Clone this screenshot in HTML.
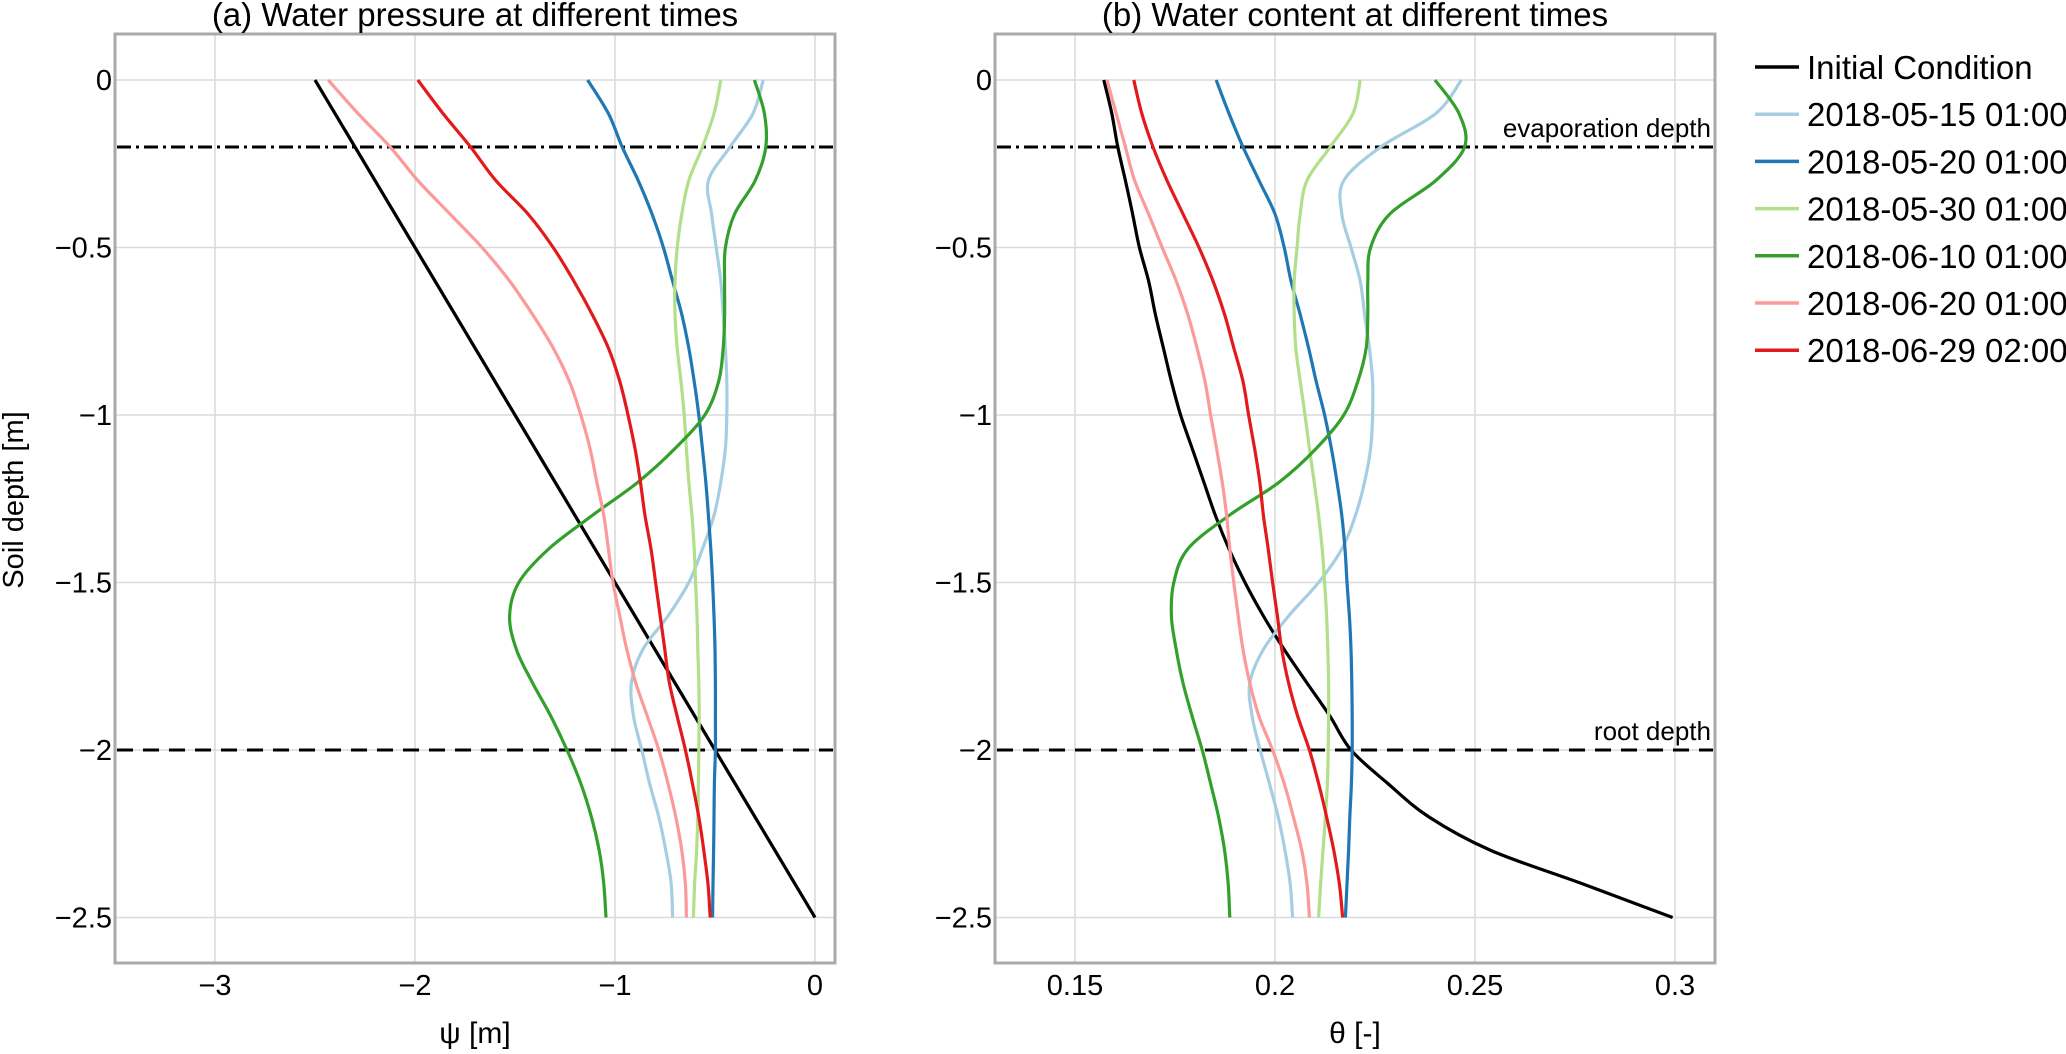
<!DOCTYPE html>
<html><head><meta charset="utf-8">
<style>
html,body{margin:0;padding:0;background:#fff;}
svg{display:block;font-family:"Liberation Sans",Arial,sans-serif;}
</style></head>
<body>
<svg id="chart" width="2066" height="1054" viewBox="0 0 2066 1054" xmlns="http://www.w3.org/2000/svg">
<rect x="0" y="0" width="2066" height="1054" fill="#fff"/>
<g id="panelA"></g>
<g id="panelB"></g>
<g id="legend"></g>
</svg>
<script>
const depths = [0,-0.1,-0.2,-0.3,-0.4,-0.5,-0.6,-0.7,-0.8,-0.9,-1.0,-1.1,-1.2,-1.3,-1.4,-1.5,-1.6,-1.7,-1.8,-1.9,-2.0,-2.1,-2.2,-2.3,-2.4,-2.5];
const seriesNames = ["Initial Condition","2018-05-15 01:00","2018-05-20 01:00","2018-05-30 01:00","2018-06-10 01:00","2018-06-20 01:00","2018-06-29 02:00"];
const seriesColors = ["#000000","#a6cee3","#1f78b4","#b2df8a","#33a02c","#fb9a99","#e31a1c"];

const psiInitial = [-2.5,-2.4,-2.3,-2.2,-2.1,-2.0,-1.9,-1.8,-1.7,-1.6,-1.5,-1.4,-1.3,-1.2,-1.1,-1.0,-0.9,-0.8,-0.7,-0.6,-0.5,-0.4,-0.3,-0.2,-0.1,0];
const psi0515 = [-0.259,-0.31,-0.425,-0.533,-0.517,-0.494,-0.471,-0.459,-0.448,-0.441,-0.441,-0.448,-0.471,-0.505,-0.563,-0.631,-0.735,-0.861,-0.918,-0.907,-0.866,-0.827,-0.781,-0.746,-0.719,-0.712];
const psi0520 = [-1.137,-1.033,-0.964,-0.884,-0.815,-0.758,-0.712,-0.666,-0.631,-0.604,-0.581,-0.563,-0.546,-0.533,-0.521,-0.512,-0.505,-0.5,-0.498,-0.498,-0.498,-0.503,-0.505,-0.507,-0.51,-0.512];
const psi0530 = [-0.471,-0.505,-0.563,-0.631,-0.666,-0.689,-0.7,-0.7,-0.689,-0.67,-0.654,-0.643,-0.631,-0.615,-0.604,-0.597,-0.59,-0.586,-0.581,-0.579,-0.581,-0.583,-0.586,-0.592,-0.602,-0.608];
const psi0610 = [-0.303,-0.253,-0.246,-0.299,-0.402,-0.448,-0.452,-0.452,-0.459,-0.482,-0.551,-0.7,-0.884,-1.114,-1.332,-1.481,-1.527,-1.493,-1.412,-1.32,-1.24,-1.171,-1.118,-1.079,-1.056,-1.045];
const psi0620 = [-2.434,-2.285,-2.124,-1.986,-1.825,-1.665,-1.527,-1.412,-1.309,-1.228,-1.171,-1.125,-1.091,-1.056,-1.033,-1.01,-0.976,-0.941,-0.896,-0.838,-0.781,-0.735,-0.696,-0.666,-0.648,-0.643];
const psi0629 = [-1.986,-1.86,-1.722,-1.596,-1.435,-1.309,-1.206,-1.114,-1.033,-0.976,-0.935,-0.9,-0.873,-0.85,-0.82,-0.797,-0.774,-0.751,-0.728,-0.689,-0.648,-0.613,-0.581,-0.556,-0.535,-0.524];

const thInitial = [0.1572,0.1592,0.1607,0.1626,0.1644,0.1661,0.1684,0.1701,0.1721,0.1741,0.1764,0.1793,0.1822,0.1851,0.1885,0.1925,0.1971,0.2023,0.208,0.2138,0.219,0.2282,0.2385,0.254,0.277,0.2994];
const th0515 = [0.2466,0.2402,0.2264,0.2172,0.2167,0.219,0.2213,0.2224,0.2236,0.2244,0.2244,0.2239,0.2224,0.2201,0.2167,0.2109,0.2034,0.1971,0.1937,0.1943,0.1963,0.1986,0.2008,0.2025,0.2038,0.2044];
const th0520 = [0.1853,0.1885,0.192,0.196,0.2,0.2023,0.204,0.2063,0.2084,0.2103,0.2124,0.2141,0.2155,0.2167,0.2175,0.218,0.2186,0.219,0.2192,0.2193,0.2193,0.2191,0.2187,0.2184,0.218,0.2176];
const th0530 = [0.2213,0.2195,0.2138,0.208,0.2063,0.2055,0.2048,0.2048,0.2052,0.2063,0.2075,0.2086,0.2098,0.2109,0.2118,0.2124,0.2129,0.2132,0.2134,0.2134,0.2133,0.2131,0.2126,0.212,0.2114,0.2109];
const th0610 = [0.24,0.246,0.2474,0.2402,0.2287,0.2239,0.2232,0.2232,0.2228,0.2207,0.2172,0.2103,0.2011,0.1885,0.1782,0.1747,0.1741,0.1753,0.177,0.1793,0.1818,0.1839,0.1859,0.1874,0.1883,0.1887];
const th0620 = [0.158,0.1603,0.1626,0.1649,0.1684,0.1718,0.1753,0.1782,0.1805,0.1825,0.1839,0.1854,0.1868,0.1879,0.1887,0.1897,0.1908,0.192,0.1937,0.196,0.1994,0.2023,0.2046,0.2067,0.208,0.2086];
const th0629 = [0.1647,0.1667,0.1695,0.173,0.177,0.181,0.1845,0.1874,0.1897,0.192,0.1934,0.1949,0.1962,0.1971,0.1983,0.1994,0.2006,0.2017,0.2034,0.2057,0.2086,0.2109,0.2129,0.2147,0.2161,0.2169];

const yTicks = [0,-0.5,-1,-1.5,-2,-2.5];
const yTickLabels = ["0","\u22120.5","\u22121","\u22121.5","\u22122","\u22122.5"];
const psiTicks = [-3,-2,-1,0];
const psiTickLabels = ["\u22123","\u22122","\u22121","0"];
const thTicks = [0.15,0.2,0.25,0.3];
const thTickLabels = ["0.15","0.2","0.25","0.3"];
const evapDepth = -0.2;
const rootDepth = -2.0;

const NS = "http://www.w3.org/2000/svg";
function mk(tag, attrs, parent){ const e=document.createElementNS(NS,tag); for(const k in attrs) e.setAttribute(k,attrs[k]); parent.appendChild(e); return e; }

const yTop=34, yBot=963;
function yScale(d){ return 80 - 335*d; }

function smoothPath(pts){
  let d = 'M'+pts[0][0].toFixed(1)+','+pts[0][1].toFixed(1);
  for(let i=0;i<pts.length-1;i++){
    const p0=pts[Math.max(0,i-1)], p1=pts[i], p2=pts[i+1], p3=pts[Math.min(pts.length-1,i+2)];
    const c1x=p1[0]+(p2[0]-p0[0])/6, c1y=p1[1]+(p2[1]-p0[1])/6;
    const c2x=p2[0]-(p3[0]-p1[0])/6, c2y=p2[1]-(p3[1]-p1[1])/6;
    d += ' C'+c1x.toFixed(1)+','+c1y.toFixed(1)+' '+c2x.toFixed(1)+','+c2y.toFixed(1)+' '+p2[0].toFixed(1)+','+p2[1].toFixed(1);
  }
  return d;
}

function drawPanel(g, x0, x1, xMin, xMax, xTicks, xLabels, series, title, xlabel, showYLabel, showAnnot, key){
  const xs = v => x0 + (v - xMin)/(xMax - xMin)*(x1 - x0);
  xTicks.forEach((t,i)=>{
    const l = mk('line',{x1:xs(t),x2:xs(t),y1:yTop,y2:yBot,stroke:'#dadada','stroke-width':1.6},g);
    
    
    const tx = mk('text',{x:xs(t),y:995,'font-size':29,'text-anchor':'middle',fill:'#000'},g);
    tx.textContent = xLabels[i];
    
    
  });
  yTicks.forEach((t,i)=>{
    const l = mk('line',{x1:x0,x2:x1,y1:yScale(t),y2:yScale(t),stroke:'#dadada','stroke-width':1.6},g);
    
    
    const tx = mk('text',{x:x0-3,y:yScale(t)+10,'font-size':29,'text-anchor':'end',fill:'#000'},g);
    tx.textContent = yTickLabels[i];
    
    
  });
  const ev = mk('line',{x1:x0+2,x2:x1-2,y1:yScale(evapDepth),y2:yScale(evapDepth),stroke:'#000','stroke-width':3,'stroke-dasharray':'14 5 3 5'},g);
  
  
  const rd = mk('line',{x1:x0+2,x2:x1-2,y1:yScale(rootDepth),y2:yScale(rootDepth),stroke:'#000','stroke-width':3,'stroke-dasharray':'16 10'},g);
  
  
  if(showAnnot){
    const a1 = mk('text',{x:x1-4,y:yScale(evapDepth)-10,'font-size':26,'text-anchor':'end',fill:'#000'},g);
    a1.textContent='evaporation depth';
    
    
    const a2 = mk('text',{x:x1-4,y:yScale(rootDepth)-10,'font-size':26,'text-anchor':'end',fill:'#000'},g);
    a2.textContent='root depth';
    
    
  }
  series.forEach((vals,si)=>{
    const pts = vals.map((v,i)=> [xs(v), yScale(depths[i])]);
    const p = mk('path',{d:smoothPath(pts),fill:'none',stroke:seriesColors[si],'stroke-width':3.2,'stroke-linejoin':'round'},g);
    
    
  });
  const fr = mk('rect',{x:x0,y:yTop,width:x1-x0,height:yBot-yTop,fill:'none',stroke:'#aaaaaa','stroke-width':3},g);
  
  
  const tt = mk('text',{x:(x0+x1)/2,y:26,'font-size':33,'text-anchor':'middle',fill:'#000'},g);
  tt.textContent = title;
  
  
  const xl = mk('text',{x:(x0+x1)/2,y:1043,'font-size':30,'text-anchor':'middle',fill:'#000'},g);
  xl.textContent = xlabel;
  
  
  if(showYLabel){
    const yl = mk('text',{x:0,y:0,'font-size':29,'text-anchor':'middle',fill:'#000',transform:'translate(23,500) rotate(-90)'},g);
    yl.textContent = 'Soil depth [m]';
    
    
  }
}

drawPanel(document.getElementById('panelA'),115,835,-3.5,0.1,psiTicks,psiTickLabels,
  [psiInitial,psi0515,psi0520,psi0530,psi0610,psi0620,psi0629],
  '(a) Water pressure at different times','\u03c8 [m]',true,false,'panel-a');
drawPanel(document.getElementById('panelB'),995,1715,0.13,0.31,thTicks,thTickLabels,
  [thInitial,th0515,th0520,th0530,th0610,th0620,th0629],
  '(b) Water content at different times','\u03b8 [-]',false,true,'panel-b');

const lg = document.getElementById('legend');
seriesNames.forEach((name,i)=>{
  const y = 67 + i*47.2;
  const l = mk('line',{x1:1755,x2:1799,y1:y,y2:y,stroke:seriesColors[i],'stroke-width':3.5},lg);
  
  
  const t = mk('text',{x:1807,y:y+12,'font-size':33,fill:'#000'},lg);
  t.textContent = name;
  
  
});
</script>
</body></html>
